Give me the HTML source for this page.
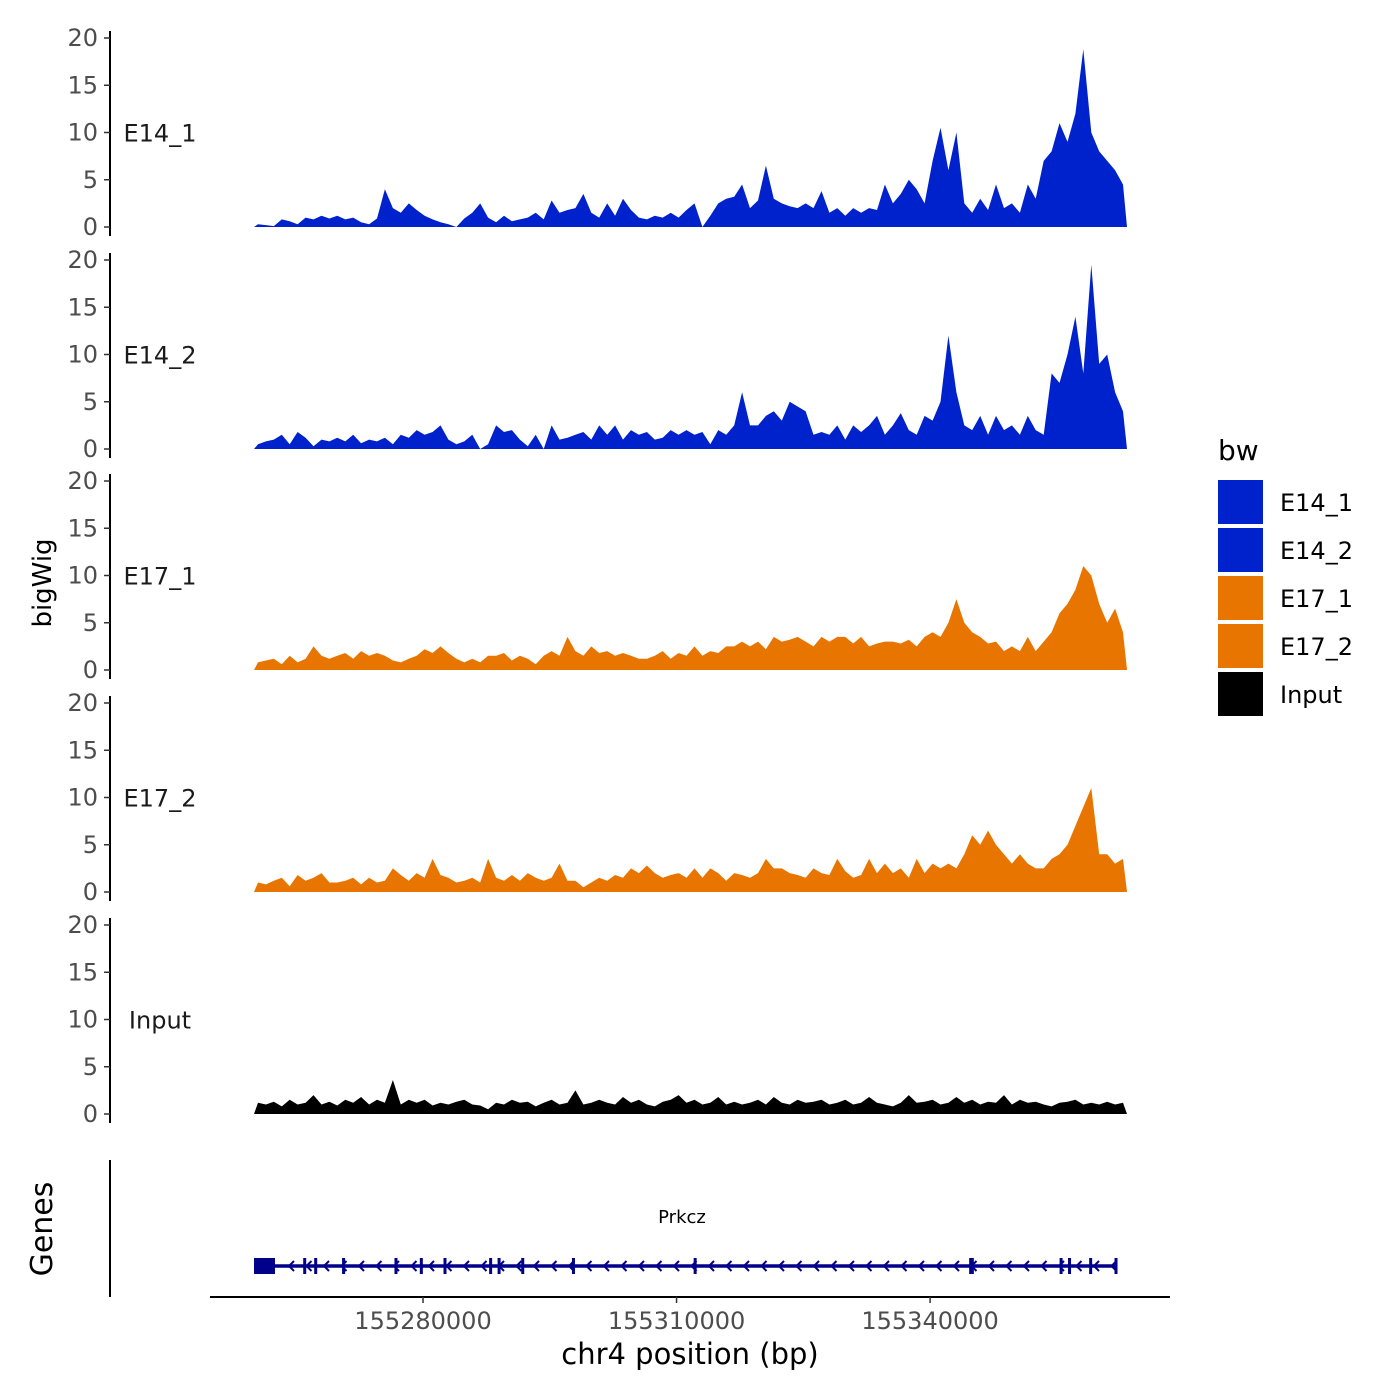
<!DOCTYPE html>
<html><head><meta charset="utf-8"><style>
body{margin:0;background:#fff}
svg{display:block;font-family:"DejaVu Sans","Liberation Sans",sans-serif}
</style></head><body>
<svg id="chart" width="1400" height="1400" viewBox="0 0 1400 1400" xmlns="http://www.w3.org/2000/svg"></svg>
<script>
const trackNames = ["E14_1","E14_2","E17_1","E17_2","Input"];
const trackColors = ["#0022CC","#0022CC","#E87500","#E87500","#000000"];
const yTicks = [0,5,10,15,20];
const xTicks = [155280000,155310000,155340000];
const xTickLabels = ["155280000","155310000","155340000"];
const regionStart = 155260000;
const regionEnd = 155363300;
const e14_1 = [0.3,0.2,0.1,0.8,0.6,0.3,1,0.8,1.2,0.9, 1.2,0.8,1,0.5,0.3,0.9,4,2,1.5,2.5, 1.8,1.2,0.8,0.5,0.3,0,0.9,1.5,2.5,1, 0.5,1.2,0.6,0.8,1,1.5,0.8,2.8,1.5,1.8, 2,3.5,1.5,1,2.5,1.2,3,1.8,1,0.8, 1.2,1,1.5,1,1.8,2.5,0,1.2,2.5,3, 3.2,4.5,2,2.8,6.5,3,2.5,2.2,2,2.5, 2,3.8,1.5,2,1.2,2,1.5,2,1.8,4.5, 2.5,3.5,5,4,2.5,7,10.5,6,10,2.5, 1.5,3,1.8,4.5,2,2.5,1.5,4.5,3,7, 8,11,9,12,18.8,10,8,7,6,4.5];
const e14_2 = [0.5,0.8,1,1.5,0.5,1.8,1.2,0.3,1,0.8, 1.2,0.8,1.5,0.6,1,0.8,1.2,0.5,1.5,1.2, 2,1.5,1.8,2.5,1,0.5,0.8,1.5,0,0.5, 2.5,1.8,2,1,0.3,1.5,0,2.5,1,1.2, 1.5,1.8,1,2.5,1.5,2.5,1,2,1.5,1.8, 1,1.2,2,1.5,2,1.5,1.8,0.5,2,1.5, 2.5,6,2.5,2.5,3.5,4,3,5,4.5,4, 1.5,1.8,1.5,2.5,1,2.5,1.8,2.5,3.5,1.5, 2.5,3.8,2,1.5,3.5,3,5,12,6,2.5, 2,3.5,1.5,3.5,2,2.5,1.5,3.5,2,1.5, 8,7,10,14,8,19.5,9,10,6,4];
const e17_1 = [0.8,1,1.2,0.6,1.5,0.8,1.2,2.5,1.5,1.2, 1.5,1.8,1.2,2,1.5,1.8,1.5,1,0.8,1.2, 1.5,2.2,1.8,2.5,1.8,1.2,0.8,1.2,0.8,1.5, 1.5,1.8,1,1.5,1.2,0.6,1.5,2,1.5,3.5, 2,1.5,2.5,1.8,2,1.5,1.8,1.5,1.2,1.2, 1.5,2,1.2,1.8,1.5,2.5,1.5,2,1.8,2.5, 2.5,3,2.5,3,2.2,3.5,3,3.2,3.5,3, 2.5,3.5,3,3.5,3.5,2.8,3.5,2.5,2.8,3, 3,2.8,3.2,2.5,3.5,4,3.5,5,7.5,5, 4,3.5,2.8,3,2,2.5,2,3.5,2,3, 4,6,7,8.5,11,10,7,5,6.5,4];
const e17_2 = [1,0.8,1.2,1.5,0.6,1.8,1.2,1.5,2,1, 1,1.2,1.5,0.8,1.5,1,1.2,2.5,1.8,1.2, 2,1.5,3.5,1.8,1.5,1,1.2,1.5,1,3.5, 1.5,1.2,1.8,1.2,2,1.5,1.2,1.5,3,1.2, 1.2,0.5,1,1.5,1.2,1.8,1.5,2.5,2,2.8, 2,1.5,1.8,2,1.5,2.5,1.5,2.5,2,1.2, 2,1.8,1.5,2,3.5,2.5,2.5,2,1.8,1.5, 2.5,2,1.8,3.5,2.2,1.5,1.8,3.5,2,3, 2,2.5,1.5,3.5,2,3,2.5,3,2.5,4, 6,5,6.5,5,4,3,4,3,2.5,2.5, 3.5,4,5,7,9,11,4,4,3,3.5];
const input = [1.2,1,1.3,0.8,1.5,1,1.2,2,1,1.3, 0.9,1.5,1.2,1.8,1,1.5,1.2,3.6,1,1.5, 1.2,1.5,0.9,1.2,1,1.3,1.5,1,0.9,0.5, 1.2,1,1.5,1.2,1.3,0.8,1.2,1.5,1,1.2, 2.5,1,1.2,1.5,1.2,1,1.8,1.2,1.5,1, 0.8,1.3,1.5,2,1.2,1.5,1,1.2,1.8,1, 1.3,1,1.2,1.5,1,1.8,1.2,1,1.5,1.2, 1.3,1.5,1,1.2,1.5,1,1.2,1.8,1.2,1, 0.8,1.2,2,1.2,1.3,1.5,1,1.2,1.8,1.2, 1.5,1,1.3,1.2,2,1,1.5,1.2,1.3,1, 0.8,1.2,1.3,1.5,1,1.2,1,1.3,1,1.2];
const geneStart = 155260000, geneEnd = 155362000;
const exonPositions = [155266000,155267300,155270600,155276800,155279800,155282600,155288000,155289000,155291800,155297800,155312200,155344800,155345000,155355500,155356500,155359000,155362000];

const series = [e14_1,e14_2,e17_1,e17_2,input];
const svg = document.getElementById('chart');
const NS = "http://www.w3.org/2000/svg";
function mk(tag, attrs, parent){const e=document.createElementNS(NS,tag);for(const k in attrs)e.setAttribute(k,attrs[k]);(parent||svg).appendChild(e);return e;}
function xScale(bp){return 254 + (bp-regionStart)/(regionEnd-regionStart)*(1127-254);}
const baselines=[227,449,670,892,1114];
const pxPerUnit=9.45;
function yScale(v,p){return baselines[p]-v*pxPerUnit;}

series.forEach((vals,p)=>{
  const g=mk('g',{});
  
  
  const n=vals.length, bw=(regionEnd-regionStart)/n;
  let d='M'+xScale(regionStart)+','+yScale(0,p);
  vals.forEach((v,i)=>{d+=' L'+xScale(regionStart+(i+0.5)*bw).toFixed(1)+','+yScale(v,p).toFixed(1);});
  d+=' L'+xScale(regionEnd)+','+yScale(0,p)+' Z';
  const a=mk('path',{d:d,fill:trackColors[p]},g);
  
  
  const ax=mk('line',{x1:110,x2:110,y1:yScale(20,p)-7,y2:baselines[p]+9,stroke:'#000','stroke-width':2},g);
  
  
  yTicks.forEach(t=>{
    const y=yScale(t,p);
    const tk=mk('line',{x1:104,x2:110,y1:y,y2:y,stroke:'#333','stroke-width':1.5},g);
    
    
    const tl=mk('text',{x:98,y:y+8,'text-anchor':'end','font-size':24,fill:'#4d4d4d'},g);
    tl.textContent=t;
    
    
  });
  const lab=mk('text',{x:160,y:yScale(10,p)+9,'text-anchor':'middle','font-size':24,fill:'#1a1a1a'},g);
  lab.textContent=trackNames[p];
  
  
});

const gg=mk('g',{});


const gax=mk('line',{x1:110,x2:110,y1:1160,y2:1297,stroke:'#000','stroke-width':2},gg);


const gl=mk('line',{x1:xScale(geneStart),x2:xScale(geneEnd),y1:1266,y2:1266,stroke:'#00008B','stroke-width':3.5},gg);


const gb=mk('rect',{x:xScale(geneStart),y:1258,width:21,height:16,fill:'#00008B'},gg);


exonPositions.forEach(bp=>{
  const ex=mk('rect',{x:xScale(bp)-1.5,y:1258,width:3,height:16,fill:'#00008B'},gg);
  
  
});
for(let x=xScale(geneStart)+36;x<xScale(geneEnd);x+=17.5){
  const ar=mk('path',{d:`M${x+4},1261 L${x-1},1266 L${x+4},1271`,fill:'none',stroke:'#00008B','stroke-width':2},gg);
  
  
}
const gn=mk('text',{x:682,y:1223,'text-anchor':'middle','font-size':18,fill:'#000'},gg);
gn.textContent='Prkcz';



const xg=mk('g',{});


const xl=mk('line',{x1:210,x2:1170,y1:1297,y2:1297,stroke:'#000','stroke-width':2},xg);


xTicks.forEach((t,i)=>{
  const x=xScale(t);
  const tk=mk('line',{x1:x,x2:x,y1:1297,y2:1303,stroke:'#333','stroke-width':1.5},xg);
  
  
  const tl=mk('text',{x:x,y:1329,'text-anchor':'middle','font-size':24,fill:'#4d4d4d'},xg);
  tl.textContent=xTickLabels[i];
  
  
});
const xt=mk('text',{x:690,y:1364,'text-anchor':'middle','font-size':29,fill:'#000'});
xt.textContent='chr4 position (bp)';


const yt=mk('text',{x:0,y:0,'text-anchor':'middle','font-size':26,fill:'#000',transform:'translate(51,583) rotate(-90)'});
yt.textContent='bigWig';


const gt=mk('text',{x:0,y:0,'text-anchor':'middle','font-size':30,fill:'#000',transform:'translate(52,1229) rotate(-90)'});
gt.textContent='Genes';



const lg=mk('g',{});


const ltt=mk('text',{x:1218,y:460,'font-size':28,fill:'#000'},lg);
ltt.textContent='bw';


trackNames.forEach((nm,i)=>{
  const y=480+i*48;
  const k=mk('rect',{x:1218,y:y,width:45,height:44,fill:trackColors[i]},lg);
  
  
  const t=mk('text',{x:1280,y:y+31,'font-size':24,fill:'#000'},lg);
  t.textContent=nm;
  
  
});
</script>
</body></html>
